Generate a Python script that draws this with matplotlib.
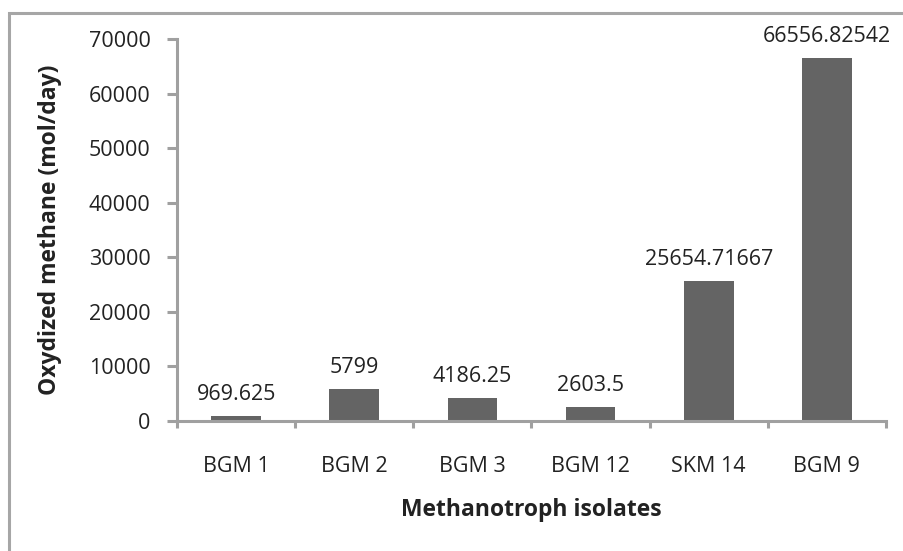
import matplotlib.pyplot as plt
from matplotlib.patches import Rectangle

isolates = ["BGM 1", "BGM 2", "BGM 3", "BGM 12", "SKM 14", "BGM 9"]
oxidized = [969.625, 5799, 4186.25, 2603.5, 25654.71667, 66556.82542]
value_labels = ["969.625", "5799", "4186.25", "2603.5", "25654.71667", "66556.82542"]

plt.rcParams['font.family'] = ['Open Sans', 'DejaVu Sans']
fs = 15.5
lfs = 16.5
txt = "#222222"
grey = "#a0a0a0"

fig = plt.figure(figsize=(9.04, 5.51), dpi=100)
ax = fig.add_axes([177 / 904, 1 - 421 / 551, (886 - 177) / 904, (421 - 39) / 551])

# outer chart frame (cut off at right and bottom edges)
fig.patches.append(Rectangle((9 / 904, -0.05), 1.0, 1 - 13 / 551 + 0.05,
                             transform=fig.transFigure, fill=False,
                             edgecolor="#a6a6a6", linewidth=2.2))

x = range(len(isolates))
ax.bar(x, oxidized, width=0.42, color="#646464")
for xi, v, lab in zip(x, oxidized, value_labels):
    ax.annotate(lab, (xi, v), xytext=(0, 11.5), textcoords="offset points",
                ha="center", va="baseline", fontsize=fs, color=txt)

ax.set_xlim(-0.5, 5.5)
ax.set_ylim(0, 70000)
ax.set_yticks(range(0, 70001, 10000))
ax.set_xticks(list(x))
ax.set_xticklabels(isolates, fontsize=fs, color=txt)
ax.tick_params(axis="y", labelsize=fs, colors=grey, length=7, width=2.2, pad=12, labelcolor=txt)
ax.tick_params(axis="x", length=0, pad=25)
# category boundary ticks
ax.set_xticks([i - 0.5 for i in range(len(isolates) + 1)], minor=True)
ax.tick_params(axis="x", which="minor", length=5, width=2.2, colors=grey)

for s in ["top", "right"]:
    ax.spines[s].set_visible(False)
for s in ["left", "bottom"]:
    ax.spines[s].set_color(grey)
    ax.spines[s].set_linewidth(2.2)

ax.set_ylabel("Oxydized methane (mol/day)", fontsize=lfs, fontweight="bold", color=txt, va="center")
ax.yaxis.set_label_coords((50 - 177) / 709, 0.5)
ax.set_xlabel("Methanotroph isolates", fontsize=lfs, fontweight="bold", color=txt, va="center")
ax.xaxis.set_label_coords(0.5, (421 - 510) / 382)

fig.savefig("out.png", dpi=100)
